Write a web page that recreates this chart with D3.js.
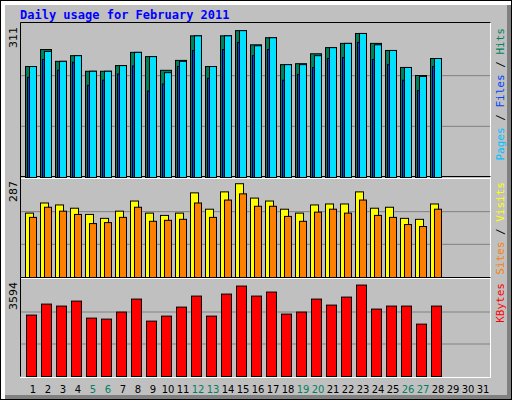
<!DOCTYPE html>
<html><head><meta charset="utf-8">
<script src="https://cdn.jsdelivr.net/npm/d3@7"></script>
<style>body{margin:0;background:#fff}</style>
</head><body>
<svg id="chart" width="512" height="400"></svg>
<script>
const days = d3.range(1, 32)
const weekendDays = [5, 6, 12, 13, 19, 20, 26, 27]
const hits  = [235,271,246,258,225,225,237,265,256,227,248,300,235,300,311,281,296,239,241,262,275,284,305,284,269,233,216,252]
const files = [235,267,246,258,225,225,237,265,256,222,246,300,235,300,311,279,296,239,239,258,275,284,305,281,269,233,214,252]
const pages = [212,250,227,244,195,206,219,236,183,198,235,269,210,271,286,258,271,206,218,233,252,254,286,250,239,206,184,235]
const visits = [197,228,222,212,193,181,203,234,197,190,197,259,209,262,287,243,234,209,197,222,225,225,262,212,215,181,178,225]
const sites  = [184,215,203,193,165,168,184,215,172,175,178,228,184,237,256,218,218,187,172,200,209,197,237,190,184,162,156,209]
const kbytes = [2414,2846,2768,2964,2295,2256,2532,3043,2177,2374,2728,3161,2374,3240,3555,3161,3319,2453,2532,3043,2807,3122,3594,2650,2768,2768,2059,2768]

const svg = d3.select('#chart')
// background with bevel
svg.append('rect').attr('x', 0).attr('y', 0).attr('width', 512).attr('height', 400).attr('fill', '#000')
svg.append('rect').attr('x', 1).attr('y', 1).attr('width', 510).attr('height', 398).attr('fill', '#fff')
svg.append('rect').attr('x', 5).attr('y', 5).attr('width', 506).attr('height', 394).attr('fill', '#808080')
svg.append('rect').attr('x', 5).attr('y', 5).attr('width', 502).attr('height', 390).attr('fill', '#c0c0c0')

svg.append('text').attr('x', 20).attr('y', 19).text('Daily usage for February 2011')
  .attr('font-family', 'DejaVu Sans Mono').attr('font-weight', 'bold').attr('font-size', 12).attr('fill', '#0000ff')

const x = d3.scaleLinear().domain([1, 31]).range([25, 25 + 30 * 15])

// panels
const panels = [
  {top: 25, bottom: 177, max: 311 * 1.035, label: '311'},
  {top: 179, bottom: 277, max: 287 * 1.045, label: '287'},
  {top: 280, bottom: 376, max: 3594 * 1.05, label: '3594'}
]
panels.forEach(p => {
  p.y = d3.scaleLinear().domain([0, p.max]).range([p.bottom, p.top])
  const g = svg.append('g')
  const h = p.bottom - p.top
  ;[1 / 3, 2 / 3].forEach(f => {
    g.append('line').attr('x1', 20).attr('x2', 490).attr('y1', p.bottom - h * f).attr('y2', p.bottom - h * f)
      .attr('stroke', '#808080').attr('stroke-width', 1)
  })
  g.append('path').attr('d', `M20.5,${p.bottom + 0.5}V${p.top - 2.5}H491`).attr('fill', 'none').attr('stroke', '#000')
  g.append('path').attr('d', `M20,${p.bottom + 1.5}H490.5V${p.top - 2.5}`).attr('fill', 'none').attr('stroke', '#fff')
  svg.append('text').attr('transform', `translate(17,${p.top + 2}) rotate(-90)`).attr('text-anchor', 'end')
    .attr('font-family', 'DejaVu Sans').attr('font-size', 11).attr('fill', '#000').text(p.label)
})

function bars(data, panel, dx, w, color) {
  svg.append('g').selectAll('rect').data(data).join('rect')
    .attr('x', (d, i) => x(i + 1) + dx + 0.5)
    .attr('y', d => panel.y(d) + 0.5)
    .attr('width', w)
    .attr('height', d => panel.bottom - panel.y(d))
    .attr('fill', color).attr('stroke', '#000').attr('stroke-width', 1)
}
bars(hits, panels[0], 0, 11, '#00805c')
bars(pages, panels[0], 2, 5, '#0040ff')
bars(files, panels[0], 4, 7, '#00e0ff')
bars(visits, panels[1], 0, 8, '#ffff00')
bars(sites, panels[1], 4, 7, '#ff8000')
bars(kbytes, panels[2], 1, 10, '#ff0000')

// day labels
svg.append('g').selectAll('text').data(days).join('text')
  .attr('x', d => x(d) + 8).attr('y', 393).attr('text-anchor', 'middle')
  .attr('font-family', 'DejaVu Sans').attr('font-size', 10)
  .attr('fill', d => weekendDays.includes(d) ? '#008060' : '#000')
  .text(d => d)

// right-hand legends
function legend(y, parts) {
  const t = svg.append('text').attr('transform', `translate(504,${y}) rotate(-90)`).attr('text-anchor', 'end')
    .attr('font-family', 'DejaVu Sans Mono').attr('font-size', 11)
  parts.forEach(([s, c]) => t.append('tspan').attr('fill', c).text(s))
}
legend(28, [['Pages', '#00c0ff'], [' / ', '#000'], ['Files', '#0040ff'], [' / ', '#000'], ['Hits', '#00805c']])
legend(182, [['Sites', '#ff8000'], [' / ', '#000'], ['Visits', '#ffff00']])
legend(283, [['KBytes', '#ff0000']])
</script>
</body></html>
